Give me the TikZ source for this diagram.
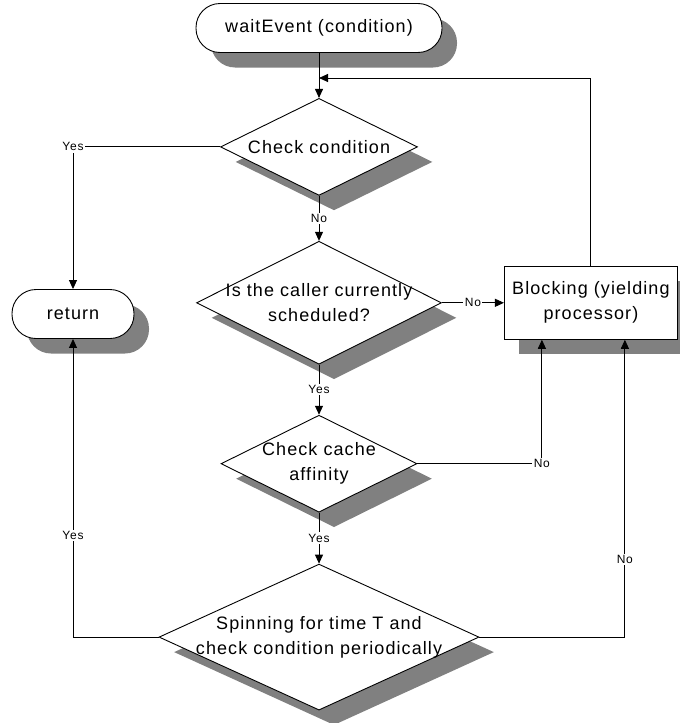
\documentclass[tikz,border=0pt]{standalone}
\usepackage{fontspec}
\setmainfont{Liberation Sans}[LetterSpace=6]
\usepackage{tikz}
\usetikzlibrary{arrows.meta,positioning,shapes,shadows}

\begin{document}
\begin{tikzpicture}[x=1pt, y=-1pt, line width=0.9pt, >={Triangle[length=9pt,width=8pt]},
font=\fontsize{18}{25}\selectfont,
shadowed/.style={drop shadow={shadow xshift=15pt, shadow yshift=-15pt, fill=black!50, opacity=1}},
terminal/.style={rectangle, draw, rounded corners=24pt, fill=white, minimum height=49pt, shadowed},
decision/.style={diamond, draw, fill=white, inner sep=0pt, shadowed},
block/.style={rectangle, draw, fill=white, align=center, minimum width=173pt, minimum height=73pt, shadowed},
txt/.style={align=center},
answer/.style={font=\fontsize{12}{14}\selectfont, fill=white, inner sep=1.5pt},
line/.style={draw, ->}]
\useasboundingbox (0,0) rectangle (680,723);

% Nodes
\node[terminal, minimum width=246pt] (wait) at (319,28) {waitEvent (condition)};
\node[decision, below=45pt of wait, minimum width=197pt, minimum height=97pt,
  label={[txt]center:Check condition}] (cond) {};
\node[decision, below=45pt of cond, minimum width=245pt, minimum height=123pt,
  label={[txt]center:Is the caller currently\\scheduled?}] (sched) {};
\node[block, right=62pt of sched] (block) {Blocking (yielding\\processor)};
\node[decision, below=50pt of sched, minimum width=196pt, minimum height=97pt,
  label={[txt]center:Check cache\\affinity}] (cache) {};
\node[decision, below=51pt of cache, minimum width=320pt, minimum height=146pt,
  label={[txt]center:Spinning for time T and\\check condition periodically}] (spin) {};
\node[terminal, minimum width=122pt] (return) at (73,314) {return};

\coordinate (merge) at (319,78);

% Paths
\path[line] (wait) -- (cond);
\path[line] (block) |- (merge);
\path[line] (cond) -| node[answer] {Yes} (return);
\path[line] (cond) -- node[answer] {No} (sched);
\path[line] (sched) -- node[answer] {No} (block);
\path[line] (sched) -- node[answer] {Yes} (cache);
\path[line] (cache) -| node[answer] {No} ([xshift=-49pt]block.south);
\path[line] (cache) -- node[answer] {Yes} (spin);
\path[line] (spin) -| node[answer, pos=0.67] {Yes} (return);
\path[line] (spin) -| node[answer, pos=0.63] {No} ([xshift=34pt]block.south);
\end{tikzpicture}
\end{document}
